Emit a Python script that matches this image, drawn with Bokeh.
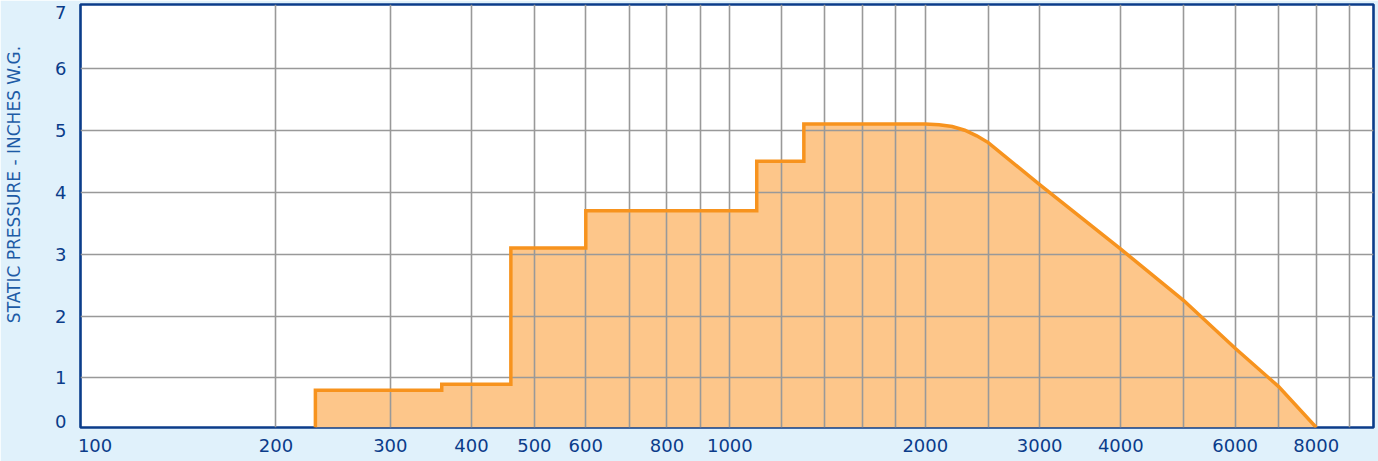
import math
from bokeh.plotting import figure
from bokeh.models import Range1d, FixedTicker, Label
from bokeh.embed import file_html
from bokeh.resources import INLINE

# ---- data ----
flow_step_start = [230, 360, 460, 600, 1100, 1300]      # CFM where each flat level begins
pressure_step = [0.8, 0.9, 3.1, 3.7, 4.5, 5.1]          # in. w.g.
flow_curve = [2000, 2100, 2200, 2300, 2400, 2500, 3000, 4000, 5000, 6000, 7000, 8000]
pressure_curve = [5.1, 5.09, 5.06, 5.0, 4.91, 4.8, 4.12, 3.08, 2.25, 1.48, 0.86, 0.2]

x_tick_values = [100, 200, 300, 400, 500, 600, 800, 1000, 2000, 3000, 4000, 6000, 8000]
x_tick_labels = ["100", "200", "300", "400", "500", "600", "800", "1000", "2000", "3000", "4000", "6000", "8000"]
x_grid_values = [200, 300, 400, 500, 600, 700, 800, 900, 1000, 1200, 1400, 1600, 1800,
                 2000, 2500, 3000, 4000, 5000, 6000, 7000, 8000, 9000]
y_tick_values = [0, 1, 2, 3, 4, 5, 6, 7]
y_tick_labels = ["0", "1", "2", "3", "4", "5", "6", "7"]
y_grid_values = [1, 2, 3, 4, 5, 6]
Y_BASE = 0.2
X_MIN, X_MAX = 100, 9800
Y_TOP = 7.03
y_title = "STATIC PRESSURE - INCHES W.G."

# ---- build the step + curve outline ----
xs = [flow_step_start[0]]
ys = [Y_BASE]
for i, (fx, py) in enumerate(zip(flow_step_start, pressure_step)):
    xs.append(fx); ys.append(py)
    nxt = flow_step_start[i + 1] if i + 1 < len(flow_step_start) else flow_curve[0]
    xs.append(nxt); ys.append(py)
for fx, py in zip(flow_curve, pressure_curve):
    xs.append(fx); ys.append(py)

DARK = "#0B3C8A"
BG = "#E0F1FB"

p = figure(width=1378, height=461, x_axis_type="log",
           x_range=Range1d(X_MIN, X_MAX), y_range=Range1d(Y_BASE, Y_TOP),
           output_backend="svg", toolbar_location=None,
           min_border_left=80, min_border_right=5, min_border_top=4, min_border_bottom=34)
p.background_fill_color = "white"
p.border_fill_color = BG
p.outline_line_color = DARK
p.outline_line_width = 2.6

p.patch(xs, ys, fill_color="#FDC68A", line_color=None, level="image")
p.line(xs, ys, line_color="#F7931E", line_width=3.5, line_join="miter")

# label positions nudged inward at the ends like the reference
x_label_pos = list(x_tick_values)
x_label_pos[0] = 105.3
y_label_pos = list(y_tick_values)
y_label_pos[0] = 0.3
y_label_pos[-1] = 6.9

p.xaxis.ticker = FixedTicker(ticks=x_label_pos, minor_ticks=[])
p.xaxis.major_label_overrides = {v: t for v, t in zip(x_label_pos, x_tick_labels)}
p.yaxis.ticker = FixedTicker(ticks=y_label_pos, minor_ticks=[])
p.yaxis.major_label_overrides = {v: t for v, t in zip(y_label_pos, y_tick_labels)}

for ax in (p.xaxis, p.yaxis):
    ax.axis_line_color = None
    ax.major_tick_line_color = None
    ax.minor_tick_line_color = None
    ax.major_label_text_font = "DejaVu Sans"
    ax.major_label_text_font_size = "18px"
    ax.major_label_text_color = DARK
p.xaxis.major_label_standoff = 5
p.yaxis.major_label_standoff = 8

p.xgrid.ticker = FixedTicker(ticks=x_grid_values)
p.ygrid.ticker = FixedTicker(ticks=y_grid_values)
for g in (p.xgrid, p.ygrid):
    g.grid_line_color = "#999999"
    g.grid_line_width = 1.6

p.add_layout(Label(x=13, y=184, x_units="canvas", y_units="canvas", text=y_title,
                   angle=math.pi / 2, text_align="center", text_baseline="middle",
                   text_font="DejaVu Sans", text_font_size="17px",
                   text_color="#1D5BA6"), "left")

open("out.html", "w").write(file_html(p, INLINE))
